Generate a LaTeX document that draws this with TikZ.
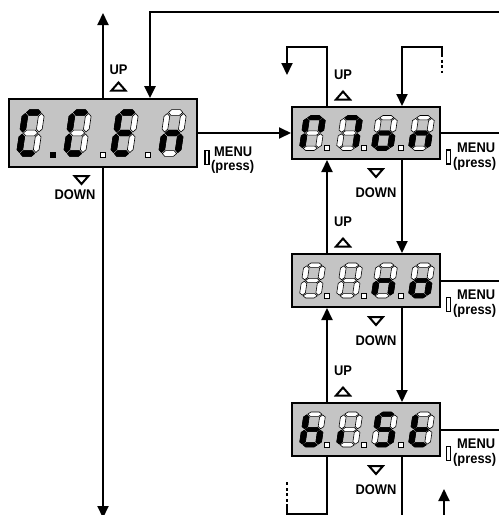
\documentclass[tikz,border=0pt]{standalone}
\usepackage{fontspec}
\setmainfont[FakeStretch=0.92]{Liberation Sans}
\usepackage{tikz}
\usetikzlibrary{arrows.meta, positioning, calc}
\definecolor{lcdgray}{RGB}{196, 196, 196}

% seven segment digit, segments a..g
\newcommand{\hseg}[2]{\path[#1] (3,#2) -- (5.2,#2+2.2) -- (11.8,#2+2.2) -- (14,#2) -- (11.8,#2-2.2) -- (5.2,#2-2.2) -- cycle;}
\newcommand{\vseg}[4]{\path[#1] (#2,#3+0.8) -- (#2+2.2,#3+3) -- (#2+2.2,#4-3) -- (#2,#4-0.8) -- (#2-2.2,#4-3) -- (#2-2.2,#3+3) -- cycle;}
\newcommand{\sga}[1]{\hseg{#1}{33.8}}
\newcommand{\sgb}[1]{\vseg{#1}{14.8}{18}{33.8}}
\newcommand{\sgc}[1]{\vseg{#1}{14.8}{2.2}{18}}
\newcommand{\sgd}[1]{\hseg{#1}{2.2}}
\newcommand{\sge}[1]{\vseg{#1}{2.2}{2.2}{18}}
\newcommand{\sgf}[1]{\vseg{#1}{2.2}{18}{33.8}}
\newcommand{\sgg}[1]{\hseg{#1}{18}}
\newcommand{\sgx}[1]{}
% #1 display, #2 x offset, #3 xscale, #4 yscale, #5 lit segments
\newcommand{\lcd}[5]{%
  \begin{scope}[shift={(#1)}, shift={(#2,-18*#4)}, xslant=0.15, xscale=#3, yscale=#4]
    \foreach \s in {a,b,c,d,e,f,g} {\csname sg\s\endcsname{segoff}}
    \foreach \s in {#5} {\csname sg\s\endcsname{segon}}
  \end{scope}}
% decimal point
\newcommand{\lcddot}[4]{\path[#4] ($(#1)+(#2,#3)$) rectangle ++(5,5);}

\begin{document}
\begin{tikzpicture}[x=1pt, y=1pt,
        font=\fontsize{14}{16}\selectfont\bfseries,
        lcdbox/.style={rectangle, draw=black, line width=2pt, fill=lcdgray, inner sep=0pt},
        flow/.style={line width=2pt},
        arr/.style={flow, -{Triangle[width=11pt, length=12pt]}},
        segon/.style={fill=black, draw=black, line width=0.5pt},
        segoff/.style={fill=white, draw=black, line width=0.6pt},
        lbl/.style={inner sep=0pt},
        menutxt/.style={inner sep=0pt, anchor=base west},
        menukey/.style={rectangle, draw=black, line width=1.5pt, fill=white,
                        minimum width=4pt, minimum height=14pt, inner sep=0pt},
        uptri/.pic={\draw[line width=2pt] (-7,-4) -- (7,-4) -- (0,4) -- cycle;},
        downtri/.pic={\draw[line width=2pt] (-7,4) -- (7,4) -- (0,-4) -- cycle;}
    ]
    \useasboundingbox (0,0) rectangle (499,-515);
    \clip (0,0) rectangle (499,-515);

    \node[lcdbox, minimum width=188pt, minimum height=68pt] (d1) at (103,-133) {};
    \node[lcdbox, minimum width=148pt, minimum height=52pt] (d2) at (366,-133) {};
    \node[lcdbox, minimum width=148pt, minimum height=53pt] (d3) at (366,-280.5) {};
    \node[lcdbox, minimum width=148pt, minimum height=53pt] (d4) at (366,-429.5) {};

    % digits
    \lcd{d1}{-87}{1.3}{1.3}{a,d,e,f}
    \lcd{d1}{-40}{1.3}{1.3}{a,d,e,f}
    \lcd{d1}{7}{1.3}{1.3}{a,d,e,f,g}
    \lcd{d1}{55}{1.3}{1.3}{c,e,g}
    \lcddot{d1}{-53}{-24}{segon}
    \lcddot{d1}{-3}{-24}{segoff}
    \lcddot{d1}{42}{-24}{segoff}

    \lcd{d2}{-67}{1.28}{0.97}{a,b,e,f}
    \lcd{d2}{-30}{1.28}{0.97}{a,b,c}
    \lcd{d2}{5}{1.28}{0.97}{c,d,e,g}
    \lcd{d2}{42}{1.28}{0.97}{c,e,g}

    \lcd{d3}{-67}{1.28}{0.97}{x}
    \lcd{d3}{-30}{1.28}{0.97}{x}
    \lcd{d3}{5}{1.28}{0.97}{c,e,g}
    \lcd{d3}{42}{1.28}{0.97}{c,d,e,g}

    \lcd{d4}{-67}{1.28}{0.97}{c,d,e,f,g}
    \lcd{d4}{-30}{1.28}{0.97}{e}
    \lcd{d4}{5}{1.28}{0.97}{a,c,d,f,g}
    \lcd{d4}{42}{1.28}{0.97}{d,e,f,g}
    \foreach \d in {d2,d3,d4}
        \foreach \x in {-42,-5,32}
            \lcddot{\d}{\x}{-17.5}{segoff};

    % lines and arrows
    \coordinate (topL) at (103,-13);
    \coordinate (botL) at (103,-518);
    \coordinate (topR) at (499,-12);
    \coordinate (back) at (150,-12);
    \coordinate (cl) at (327,0);
    \coordinate (cr) at (402,0);
    \coordinate (l2) at (287,-47);
    \coordinate (l2end) at (287,-75);
    \coordinate (r2) at (442,-47);
    \coordinate (r2end) at (442,-73);
    \coordinate (l4) at (287,-514);
    \coordinate (l4end) at (287,-480);
    \coordinate (upR) at (444,-489);

    \draw[arr] (d1.north) -- (topL);
    \draw[arr] (d1.south) -- (botL);
    \draw[arr, line width=2.6pt] (topR) -- (back) -- (back |- d1.north);
    \draw[arr] (d1.east) -- (d2.west);
    \foreach \d in {d2,d3,d4}
        \draw[flow] (\d.east) -- (\d.east -| topR);
    \draw[arr] (d2.north -| cl) |- (l2) -- (l2end);
    \draw[arr] ($(r2)+(0,-7)$) -- (r2) -| (d2.north -| cr);
    \draw[flow, dash pattern=on 3pt off 2.5pt] ($(r2)+(0,-7)$) -- (r2end);
    \foreach \a/\b in {d2/d3, d3/d4} {
        \draw[arr] (\b.north -| cl) -- (\a.south -| cl);
        \draw[arr] (\a.south -| cr) -- (\b.north -| cr);
    }
    \draw[flow] (d4.south -| cl) |- (l4) -- ($(l4)+(0,7)$);
    \draw[flow, dash pattern=on 3pt off 2.5pt] ($(l4)+(0,7)$) -- (l4end);
    \draw[flow] (d4.south -| cr) -- (cr |- botL);
    \draw[arr] (upR |- botL) -- (upR);

    % labels
    \node[lbl] (up1) at (118.5,-70) {UP};
    \pic at (118.5,-86.5) {uptri};
    \pic at (81.5,-180) {downtri};
    \node[lbl] (dn1) at (75,-195) {DOWN};
    \node[menukey] (k1) at (207,-157.5) {};
    \node[menutxt] (m1) at (214,-156) {MENU};
    \node[menutxt] (p1) at (211,-170.5) {(press)};
    \foreach \d in {d2,d3,d4} {
        \node[lbl] (up\d) at ($(\d.north)+(-23,31)$) {UP};
        \pic at ($(\d.north)+(-23,10.5)$) {uptri};
        \pic at ($(\d.south)+(10,-13)$) {downtri};
        \node[lbl] (dn\d) at ($(\d.south)+(10,-33)$) {DOWN};
        \node[menukey] (k\d) at ($(\d.east)+(7.5,-24)$) {};
        \node[menutxt] (m\d) at ($(\d.east)+(16,-19)$) {MENU};
        \node[menutxt] (p\d) at ($(\d.east)+(12,-34)$) {(press)};
    }
\end{tikzpicture}
\end{document}
